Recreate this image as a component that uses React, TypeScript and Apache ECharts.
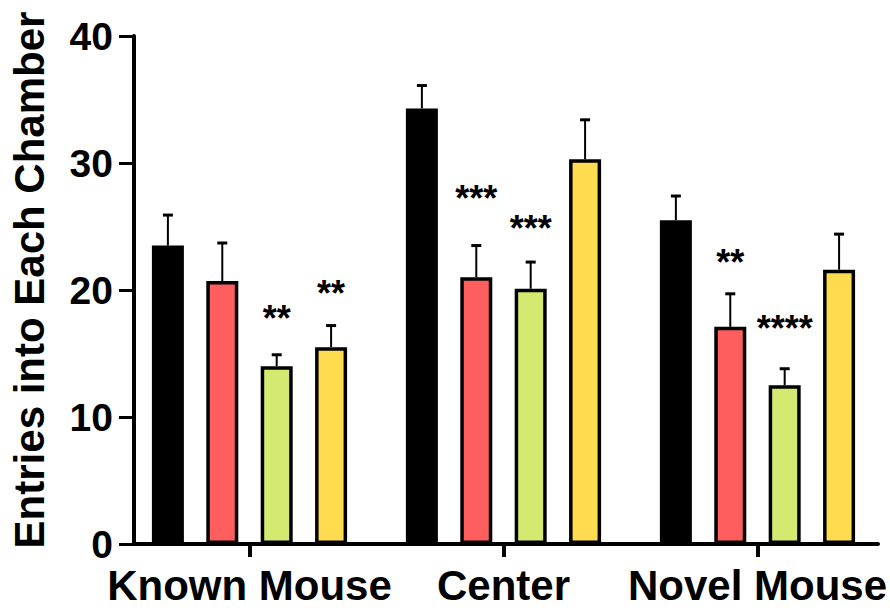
import React, { useEffect, useRef } from "react";
import * as echarts from "echarts";

// Chambers along the x axis
const categories = ["Known Mouse", "Center", "Novel Mouse"];
const yTicks = [0, 10, 20, 30, 40];

// Mean entries and SEM per group, one value per chamber
const controlMeans = [23.5, 34.3, 25.5];
const controlSem = [2.4, 1.8, 1.9];
const redMeans = [20.7, 21.0, 17.1];
const redSem = [3.0, 2.5, 2.6];
const greenMeans = [14.0, 20.1, 12.5];
const greenSem = [0.9, 2.1, 1.3];
const yellowMeans = [15.5, 30.3, 21.6];
const yellowSem = [1.7, 3.1, 2.8];

// Significance marks versus control
const controlSig = ["", "", ""];
const redSig = ["", "***", "**"];
const greenSig = ["**", "***", "****"];
const yellowSig = ["**", "", ""];

const FONT = "'Liberation Sans', Arial, Helvetica, sans-serif";
const BAR_W = 32;
const BAR_GAP = 0.7;
const STEP = BAR_W * (1 + BAR_GAP);

const groups = [
  { name: "Group 1", color: "#000000", means: controlMeans, sem: controlSem, sig: controlSig },
  { name: "Group 2", color: "#FF5E5E", means: redMeans, sem: redSem, sig: redSig },
  { name: "Group 3", color: "#D3E970", means: greenMeans, sem: greenSem, sig: greenSig },
  { name: "Group 4", color: "#FFDB50", means: yellowMeans, sem: yellowSem, sig: yellowSig },
];

// vertical room (px) between an error cap and its star label
const starLift: number[][] = [
  [0, 0, 0],
  [0, 47, 31],
  [36, 34, 40],
  [32, 0, 0],
];

export default function App() {
  const ref = useRef<HTMLDivElement>(null);

  useEffect(() => {
    if (!ref.current) return;
    const chart = echarts.init(ref.current, null, { renderer: "svg" });

    const barSeries = groups.map((g) => ({
      type: "bar",
      name: g.name,
      xAxisIndex: 0,
      yAxisIndex: 0,
      data: g.means,
      barWidth: BAR_W,
      barGap: `${BAR_GAP * 100}%`,
      itemStyle: { color: g.color, borderColor: "#000", borderWidth: 3.5 },
      z: 2,
    }));

    const errSeries = groups.map((g, gi) => ({
      type: "custom",
      name: g.name + " SEM",
      xAxisIndex: 0,
      yAxisIndex: 0,
      z: 3,
      data: g.means.map((m, i) => [i, m, g.sem[i]]),
      renderItem: (params: any, api: any) => {
        const idx = api.value(0);
        const mean = api.value(1);
        const sem = api.value(2);
        const base = api.coord([idx, mean]);
        const top = api.coord([idx, mean + sem]);
        const x = base[0] + (gi - 1.5) * STEP;
        const children: any[] = [
          {
            type: "line",
            shape: { x1: x, y1: base[1], x2: x, y2: top[1] },
            style: { stroke: "#000", lineWidth: 2 },
          },
          {
            type: "line",
            shape: { x1: x - 5, y1: top[1], x2: x + 5, y2: top[1] },
            style: { stroke: "#000", lineWidth: 3 },
          },
        ];
        const mark = g.sig[idx];
        if (mark) {
          children.push({
            type: "text",
            x,
            y: top[1] - starLift[gi][idx],
            style: {
              text: mark,
              fontSize: 36,
              fontWeight: "bold",
              fontFamily: FONT,
              fill: "#000",
              align: "center",
              verticalAlign: "middle",
            },
          });
        }
        return { type: "group", children };
      },
    }));

    chart.setOption({
      animation: false,
      backgroundColor: "#fff",
      grid: [
        { left: 122.5, right: 5.5, top: 36, bottom: 67 },
        { left: 132, right: 12, top: 36, bottom: 67 },
      ],
      xAxis: [
        {
          type: "category",
          gridIndex: 0,
          data: categories,
          axisLine: { show: false },
          axisTick: { show: true, alignWithLabel: true, length: 13, lineStyle: { color: "#000", width: 4 } },
          axisLabel: {
            interval: 0,
            hideOverlap: false,
            color: "#000",
            fontSize: 42,
            fontWeight: "bold",
            fontFamily: FONT,
            margin: 20,
          },
          splitLine: { show: false },
        },
        {
          type: "value",
          gridIndex: 1,
          min: 0,
          max: 1,
          axisLine: { show: true, lineStyle: { color: "#000", width: 4 } },
          axisTick: { show: false },
          axisLabel: { show: false },
          splitLine: { show: false },
        },
      ],
      yAxis: [
        {
          type: "value",
          gridIndex: 0,
          min: yTicks[0],
          max: yTicks[yTicks.length - 1],
          interval: 10,
          show: false,
        },
        {
          type: "value",
          gridIndex: 1,
          min: yTicks[0],
          max: yTicks[yTicks.length - 1],
          interval: 10,
          name: "Entries into Each Chamber",
          nameLocation: "middle",
          nameGap: 84,
          nameTextStyle: {
            color: "#000",
            fontSize: 42,
            fontWeight: "bold",
            fontFamily: FONT,
            padding: [0, 0, 0, 20],
          },
          axisLine: { show: true, lineStyle: { color: "#000", width: 4 } },
          axisTick: { show: true, length: 15, lineStyle: { color: "#000", width: 3 } },
          axisLabel: { color: "#000", fontSize: 39, fontWeight: "bold", fontFamily: FONT, margin: 21 },
          splitLine: { show: false },
        },
      ],
      series: [...barSeries, ...errSeries],
    });

    return () => chart.dispose();
  }, []);

  return (
    <div
      ref={ref}
      style={{ position: "fixed", left: 0, top: 0, width: 890, height: 611, background: "#fff" }}
    />
  );
}
